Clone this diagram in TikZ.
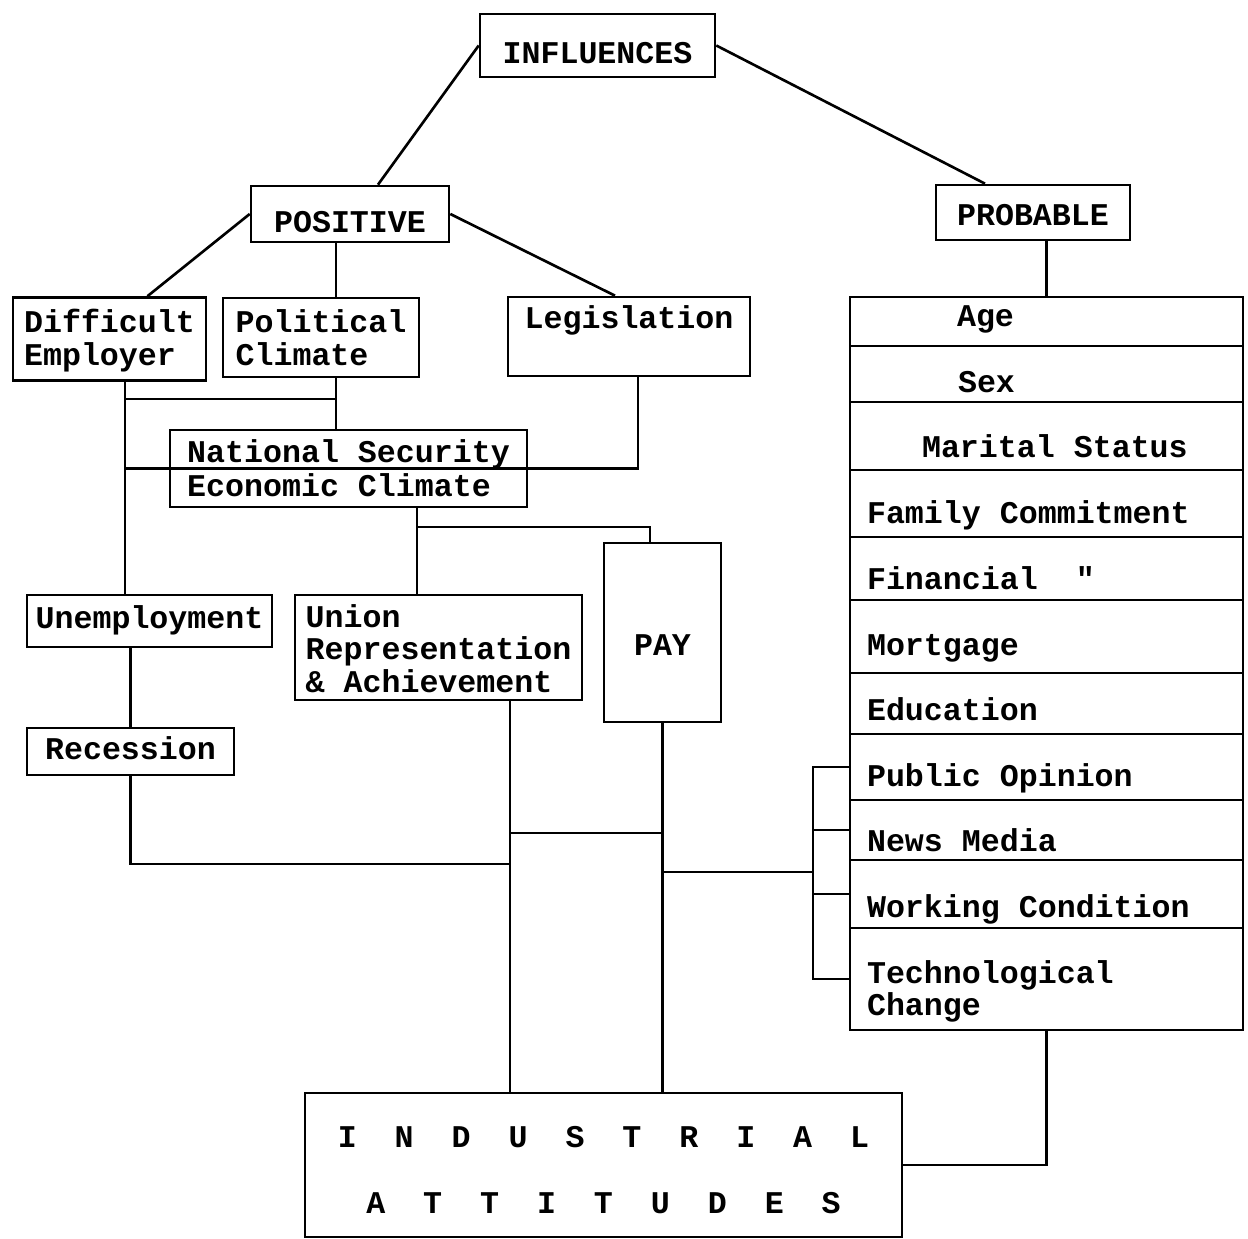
\documentclass[tikz,border=0pt]{standalone}
\usepackage{fontspec}
\setmonofont{Liberation Mono}
\newcommand{\boxtext}[3][l]{\raisebox{#2}[0pt][0pt]{\begin{tabular}[t]{@{}#1@{}}#3\end{tabular}}}
\begin{document}
\begin{tikzpicture}[
    x=0.02cm, y=-0.02cm,
    box/.style={rectangle, draw, line width=1.5pt, inner sep=0pt, align=center,
                font=\ttfamily\bfseries\fontsize{18pt}{18.5pt}\selectfont},
    row/.style={box, minimum width=7.86cm, text width=7.18cm, inner xsep=0.34cm, align=flush left},
    wire/.style={line width=1.5pt},
  ]
  \useasboundingbox (0,0) rectangle (1248,1239);

  % === top ===
  \node[box, minimum width=4.7cm, minimum height=1.26cm] (infl) at (597.5, 45.5) {\boxtext{-0.37cm}{INFLUENCES}};
  \node[box, minimum width=3.96cm, minimum height=1.12cm] (pos) at (350, 214) {\boxtext{-0.37cm}{POSITIVE}};
  \node[box, minimum width=3.88cm, minimum height=1.1cm] (prob) at (1033, 212.5) {\boxtext{-0.27cm}{PROBABLE}};

  % === positive branch ===
  \node[box, minimum width=3.86cm, minimum height=1.66cm] (diff) at (109.5, 339) {\boxtext{0.13cm}{Difficult\\Employer}};
  \node[box, minimum width=3.92cm, minimum height=1.58cm] (pol) at (321, 337.5) {\boxtext{0.1cm}{Political\\Climate}};
  \node[box, minimum width=4.84cm, minimum height=1.58cm] (leg) at (629, 336.5) {\boxtext{0.16cm}{Legislation}};
  \node[box, minimum width=7.14cm, minimum height=1.54cm,
        font=\ttfamily\bfseries\fontsize{18pt}{19.5pt}\selectfont] (nat) at (348.5, 468.5) {\boxtext{0.12cm}{National Security\\Economic Climate}};
  \node[box, minimum width=4.9cm, minimum height=1.04cm] (unemp) at (149.5, 621) {\boxtext{-0.15cm}{Unemployment}};
  \node[box, minimum width=4.14cm, minimum height=0.94cm] (rec) at (130.5, 751.5) {\boxtext{-0.17cm}{Recession}};
  \node[box, minimum width=5.74cm, minimum height=2.1cm] (union) at (438.5, 647.5) {\boxtext{0.41cm}{Union\\Representation\\\& Achievement}};
  \node[box, minimum width=2.34cm, minimum height=3.58cm] (pay) at (662.5, 632.5) {\boxtext{-0.47cm}{PAY}};

  % === probable list ===
  \node[row, minimum height=0.98cm] (age) at (1046.5, 321.5) {\boxtext{-0.11cm}{\hspace*{1.8cm}Age}};
  \node[row, minimum height=1.12cm] (sex) at (1046.5, 374) {\boxtext{-0.38cm}{\hspace*{1.82cm}Sex}};
  \node[row, minimum height=1.36cm] (mar) at (1046.5, 436) {\boxtext{-0.44cm}{\hspace*{1.1cm}Marital Status}};
  \node[row, minimum height=1.34cm] (fam) at (1046.5, 503.5) {\boxtext{-0.41cm}{Family Commitment}};
  \node[row, minimum height=1.26cm] (fin) at (1046.5, 568.5) {\boxtext{-0.43cm}{Financial~~"}};
  \node[row, minimum height=1.46cm] (mort) at (1046.5, 636.5) {\boxtext{-0.39cm}{Mortgage}};
  \node[row, minimum height=1.22cm] (edu) at (1046.5, 703.5) {\boxtext{-0.34cm}{Education}};
  \node[row, minimum height=1.32cm] (pub) at (1046.5, 767) {\boxtext{-0.4cm}{Public Opinion}};
  \node[row, minimum height=1.2cm] (news) at (1046.5, 830) {\boxtext{-0.44cm}{News Media}};
  \node[row, minimum height=1.36cm] (work) at (1046.5, 894) {\boxtext{-0.47cm}{Working Condition}};
  \node[row, minimum height=2.04cm] (tech) at (1046.5, 979) {\boxtext{-0.08cm}{Technological\\Change}};

  % === result ===
  \node[box, minimum width=11.94cm, minimum height=2.88cm] (ind) at (603.5, 1165)
    {\boxtext[c]{0.35cm}{I~~N~~D~~U~~S~~T~~R~~I~~A~~L\\[19pt]A~~T~~T~~I~~T~~U~~D~~E~~S}};

  % Joints
  \coordinate (lj) at (125, 399);
  \coordinate (pj) at (336, 399);
  \coordinate (nj) at (417, 527);
  \coordinate (qj) at (650, 527);
  \coordinate (uj) at (510, 833);
  \coordinate (rj) at (510, 864);
  \coordinate (bj) at (813, 872);

  % Top links
  \draw[wire] (infl.west) -- ([xshift=0.56cm]pos.north);
  \draw[wire] (infl.east) -- ([xshift=-0.96cm]prob.north);
  \draw[wire] (pos.west) -- ([xshift=0.76cm]diff.north);
  \draw[wire] (pos.east) -- ([xshift=-0.28cm]leg.north);
  \draw[wire] (age.north |- prob.south) -- (age.north);

  % Positive links
  \draw[wire] (pos.south -| pj) -- (pol.north -| pj);
  \draw[wire] (pol.south -| pj) -- (nat.north -| pj);
  \draw[wire] (diff.south -| lj) -- (unemp.north -| lj);
  \draw[wire] (lj) -- (pj);
  \draw[wire] (nat.west -| lj) -- (nat.west);
  \draw[wire] ([xshift=0.18cm]leg.south) |- (nat.east);
  \draw[wire] (nat.west) -- (nat.east);
  \draw[wire] (nat.south -| nj) -- (union.north -| nj);
  \draw[wire] (nj) -- (qj) -- (pay.north -| qj);
  \draw[wire] (rec.north |- unemp.south) -- (rec.north);

  % Into attitudes
  \draw[wire] (rec.south) |- (rj);
  \draw[wire] (union.south -| uj) -- (ind.north -| uj);
  \draw[wire] (uj) -- (uj -| pay.south);
  \draw[wire] (pay.south) -- (pay.south |- ind.north);
  \draw[wire] (pay.south |- bj) -- (bj);
  \draw[wire] (pub.west) -| (bj) |- (tech.west);
  \draw[wire] (news.west) -- (news.west -| bj);
  \draw[wire] (work.west) -- (work.west -| bj);
  \draw[wire] (tech.south) |- (ind.east);

\end{tikzpicture}
\end{document}
